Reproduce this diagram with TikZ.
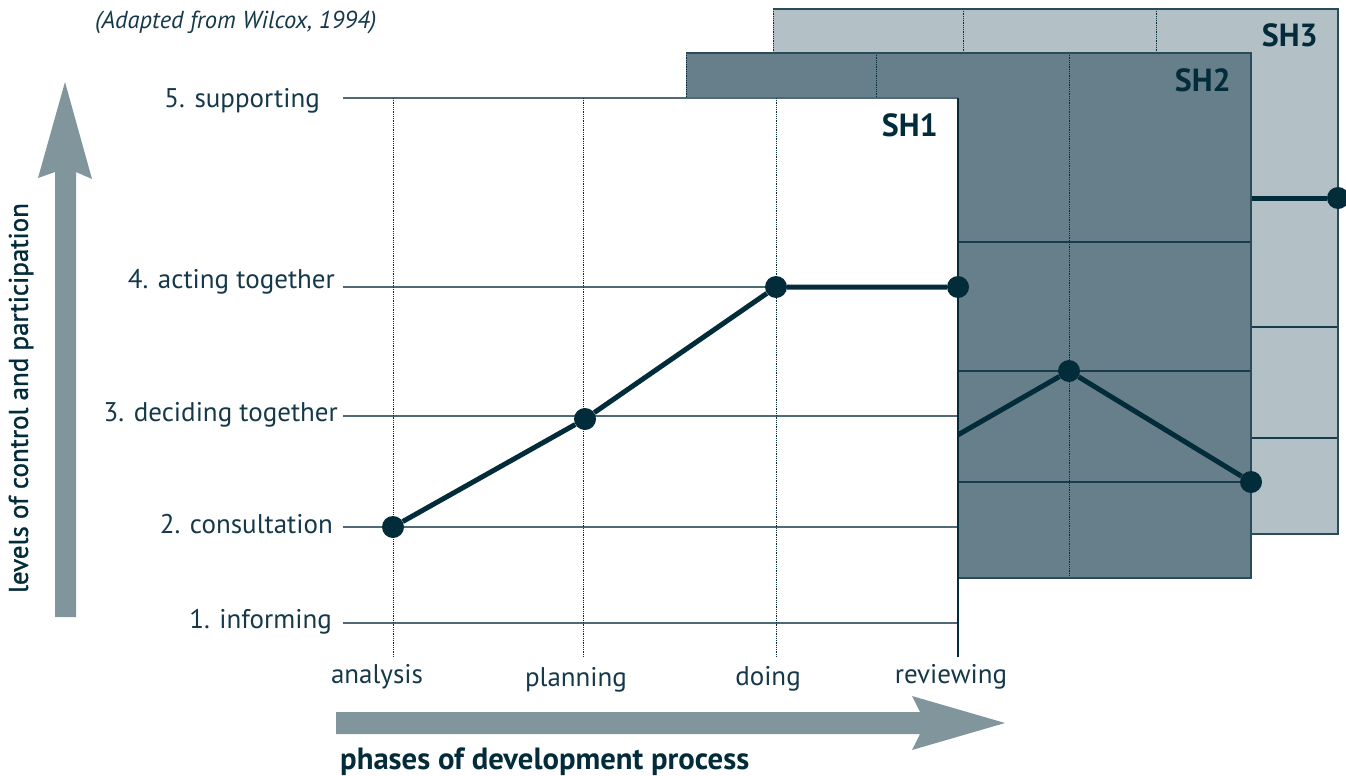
\documentclass[tikz,border=0pt]{standalone}
\usepackage{fontspec}
\setmainfont{PT Sans}
\newfontfamily\medfont[FakeBold=1.2]{PT Sans}
\definecolor{dk}{HTML}{032C3B}
\definecolor{txt}{HTML}{16394A}
\definecolor{arr}{HTML}{80959C}
\definecolor{shtwo}{HTML}{677F8A}
\definecolor{shthree}{HTML}{B3C1C6}
\definecolor{gridc}{HTML}{4F6975}
\begin{document}
\begin{tikzpicture}[x=1pt,y=-1pt,
  dot/.style={circle,fill=dk,inner sep=0pt,minimum size=22pt},
  dataline/.style={draw=dk,line width=5pt},
  hline/.style={draw=gridc,line width=1.4pt},
  hlinedk/.style={draw=dk!80!shtwo,line width=1.4pt},
  vline/.style={draw=dk,line width=0.8pt,densely dotted},
  border/.style={draw=dk!85!white,line width=1.3pt},
  lvl/.style={anchor=base east,inner sep=0pt,text=txt,font=\fontsize{27}{32}\selectfont},
  phase/.style={anchor=base,inner sep=0pt,text=txt,font=\fontsize{27}{32}\selectfont},
  shlabel/.style={anchor=base east,inner sep=0pt,text=dk,font=\bfseries\fontsize{32}{36}\selectfont}]
\useasboundingbox (0,0) rectangle (1346,776);

% ---------- SH3 panel ----------
\begin{scope}[shift={(380,-89)}]
  \fill[shthree] (393,98) rectangle (958,623);
  \foreach \y in {287,416,527} \draw[hlinedk] (393,\y) -- (958,\y);
  \foreach \x in {393,583,776} \draw[vline] (\x,98) -- (\x,623);
  \draw[border] (393,98) -- (958,98) -- (958,623) -- (393,623);
  \node[dot] (s3c) at (776,287) {};
  \node[dot] (s3d) at (958,287) {};
  \draw[dataline] (s3c) -- (s3d);
  \node[shlabel] (sh3) at (938,136) {SH3};
\end{scope}

% ---------- SH2 panel ----------
\begin{scope}[shift={(293,-45)}]
  \fill[shtwo] (393,98) rectangle (958,623);
  \foreach \y in {287,416,527} \draw[hlinedk] (393,\y) -- (958,\y);
  \foreach \x in {393,583,776} \draw[vline] (\x,98) -- (\x,623);
  \draw[border] (393,98) -- (958,98) -- (958,623) -- (393,623);
  \node[dot] (s2b) at (583,527) {};
  \node[dot] (s2c) at (776,416) {};
  \node[dot] (s2d) at (958,527) {};
  \draw[dataline] (s2b) -- (s2c) -- (s2d);
  \node[shlabel] (sh2) at (938,136) {SH2};
\end{scope}

% ---------- SH1 panel ----------
\fill[white] (393,98) rectangle (958,623);
\foreach \y in {98,287,416,527,623} \draw[hline] (343,\y) -- (958,\y);
\foreach \x in {393,583,776} \draw[vline] (\x,98) -- (\x,657);
\draw[draw=dk,line width=1.2pt] (958,98) -- (958,657);
\node[dot] (s1a) at (393,527) {};
\node[dot] (s1b) at (585,419) {};
\node[dot] (s1c) at (776,287) {};
\node[dot] (s1d) at (958,287) {};
\draw[dataline] (s1a) -- (s1b) -- (s1c) -- (s1d);
\node[shlabel] (sh1) at (938,136) {SH1};

% ---------- level labels ----------
\node[lvl] (l5) at (320,107) {5. supporting};
\node[lvl] (l4) at (335,288) {4. acting together};
\node[lvl] (l3) at (338,421) {3. deciding together};
\node[lvl] (l2) at (333,533) {2. consultation};
\node[lvl] (l1) at (332,628) {1. informing};

% ---------- phase labels ----------
\node[phase] (p1) at (377,683) {analysis};
\node[phase] (p2) at (576,686) {planning};
\node[phase] (p3) at (768,685) {doing};
\node[phase] (p4) at (951,683) {reviewing};

% ---------- arrows ----------
\fill[arr] (55,617) -- (76,617) -- (76,172) -- (92,179) -- (65,82) -- (38,178) -- (55,172) -- cycle;
\fill[arr] (336,712) -- (920,712) -- (912,696) -- (1005,723) -- (912,750) -- (920,734) -- (336,734) -- cycle;

% ---------- titles ----------
\node[anchor=base west,inner sep=0pt,text=txt,font=\itshape\fontsize{24.5}{28}\selectfont] (src) at (95,29) {(Adapted from Wilcox, 1994)};
\node[rotate=90,inner sep=0pt,text=dk,font=\medfont\fontsize{27}{32}\selectfont] (ylab) at (21,398) {levels of control and participation};
\node[anchor=base west,inner sep=0pt,text=dk,font=\bfseries\fontsize{30.7}{34}\selectfont] (xlab) at (340,769) {phases of development process};
\end{tikzpicture}
\end{document}
